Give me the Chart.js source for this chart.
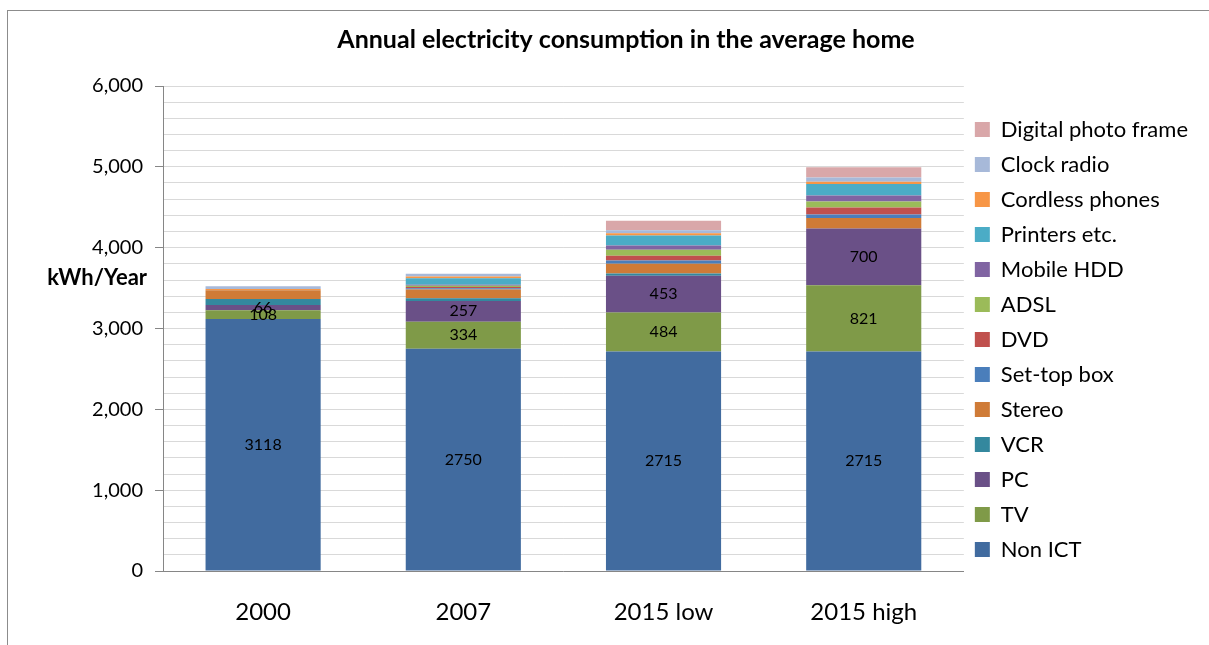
<!DOCTYPE html>
<html>
<head>
<meta charset="utf-8">
<script src="https://cdn.jsdelivr.net/npm/chart.js@4"></script>
<style>
  body { margin: 0; background: #fff; }
  #frame { position: absolute; left: 7px; top: 10px; width: 1230px; height: 660px; border: 1px solid #8c8c8c; }
  #wrap { position: absolute; left: 0; top: 0; width: 1209px; height: 645px; }
</style>
</head>
<body>
<div id="frame"></div>
<div id="wrap"><canvas id="chart" width="1209" height="645"></canvas></div>
<script>
// categories and series (kWh/year)
const categories = ['2000', '2007', '2015 low', '2015 high'];
const nonICT     = [3118, 2750, 2715, 2715];
const tv         = [108, 334, 484, 821];
const pc         = [66, 257, 453, 700];
const vcr        = [72, 33, 29, 0];
const stereo     = [110, 107, 120, 132];
const setTopBox  = [0, 16, 41, 41];
const dvd        = [0, 16, 58, 87];
const adsl       = [0, 16, 74, 74];
const mobileHdd  = [0, 12, 54, 74];
const printers   = [0, 80, 124, 144];
const cordless   = [16, 22, 25, 29];
const clockRadio = [33, 35, 37, 50];
const photoFrame = [0, 0, 118, 128];

const yTicks = [0, 1000, 2000, 3000, 4000, 5000, 6000];
const labelledSeries = ['Non ICT', 'TV', 'PC'];

const font = "Lato, 'Open Sans', sans-serif";

const series = [
  ['Non ICT', nonICT, '#416b9f'],
  ['TV', tv, '#7f9a48'],
  ['PC', pc, '#6a5087'],
  ['VCR', vcr, '#34889e'],
  ['Stereo', stereo, '#cf7b37'],
  ['Set-top box', setTopBox, '#4a7ebb'],
  ['DVD', dvd, '#c0504d'],
  ['ADSL', adsl, '#9bbb59'],
  ['Mobile HDD', mobileHdd, '#8064a2'],
  ['Printers etc.', printers, '#4bacc6'],
  ['Cordless phones', cordless, '#f79646'],
  ['Clock radio', clockRadio, '#a7b9d9'],
  ['Digital photo frame', photoFrame, '#d9a7a9'],
];

// value labels on the three biggest segments + horizontal y title
const segLabels = {
  id: 'segLabels',
  afterLayout(chart) {
    // title sits a bit right of the canvas centre in the original
    const tb = chart.titleBlock;
    const shift = 626 - (tb.left + tb.right) / 2;
    tb.left += shift;
    tb.right += shift;
    // legend sits a little lower and further left
    const lg = chart.legend;
    lg.left -= 2; lg.right -= 2;
    lg.top += 17; lg.bottom += 17;
  },
  afterDatasetsDraw(chart) {
    const ctx = chart.ctx;
    ctx.save();
    ctx.font = '16px ' + font;
    ctx.fillStyle = '#000';
    ctx.textAlign = 'center';
    ctx.textBaseline = 'middle';
    chart.data.datasets.forEach((ds, i) => {
      if (!labelledSeries.includes(ds.label)) return;
      chart.getDatasetMeta(i).data.forEach((bar, j) => {
        const p = bar.getProps(['x', 'y', 'base'], true);
        ctx.fillText(String(ds.data[j]), p.x, (p.y + p.base) / 2);
      });
    });
    ctx.font = 'bold 22px ' + font;
    ctx.textAlign = 'right';
    ctx.fillText('kWh/Year', chart.chartArea.left - 16, chart.scales.y.getPixelForValue(3620));
    ctx.restore();
  }
};

new Chart(document.getElementById('chart'), {
  type: 'bar',
  data: {
    labels: categories,
    datasets: series.map(([label, data, color]) => ({
      label, data, backgroundColor: color,
      barPercentage: 0.575, categoryPercentage: 1
    }))
  },
  options: {
    responsive: false,
    animation: false,
    layout: { padding: { left: 0, right: 9, bottom: 0 } },
    plugins: {
      title: {
        display: true,
        text: 'Annual electricity consumption in the average home',
        color: '#000',
        font: { family: font, size: 25, weight: 'bold' },
        padding: { top: 25, bottom: 31 }
      },
      legend: {
        position: 'right',
        reverse: true,
        labels: {
          color: '#000',
          font: { family: font, size: 22 },
          boxWidth: 15, boxHeight: 15,
          padding: 13
        }
      },
      tooltip: { enabled: false }
    },
    scales: {
      x: {
        stacked: true,
        afterFit(scale) { scale.height = 74; },
        grid: { display: false, drawTicks: false },
        border: { color: '#868686' },
        ticks: { color: '#000', font: { family: font, size: 24 }, padding: 27 }
      },
      y: {
        stacked: true,
        min: 0, max: 6000,
        afterFit(scale) { scale.width = 163; },
        afterBuildTicks(scale) {
          const t = [];
          for (let v = 0; v <= 6000; v += 200) t.push({ value: v });
          scale.ticks = t;
        },
        grid: {
          color: '#d9d9d9',
          tickLength: 8,
          tickColor: c => yTicks.includes(c.tick.value) ? '#868686' : 'rgba(0,0,0,0)'
        },
        border: { color: '#868686' },
        ticks: {
          color: '#000',
          font: { family: font, size: 20 },
          padding: 12,
          autoSkip: false,
          callback: v => yTicks.includes(v) ? v.toLocaleString('en-US') : ''
        }
      }
    }
  },
  plugins: [segLabels]
});
</script>
</body>
</html>
